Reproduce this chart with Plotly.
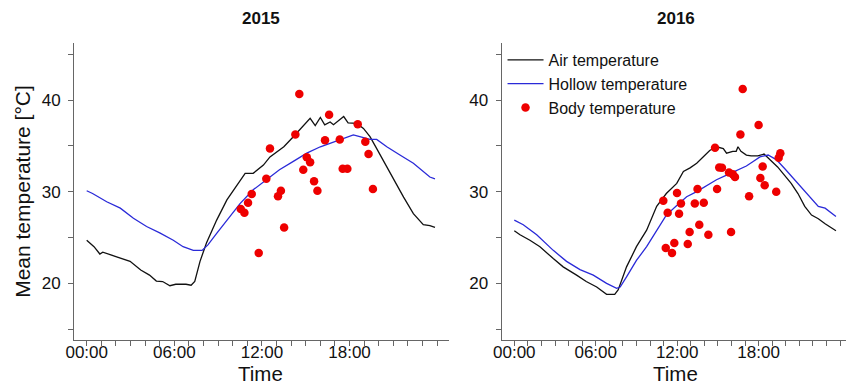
import plotly.graph_objects as go
from plotly.subplots import make_subplots

# ---- 2015 -------------------------------------------------------------
air15_h = [0, 0.5, 0.9, 1.1, 2.05, 2.97, 3.7, 4.3, 4.77, 5.2, 5.7, 6.1, 6.8, 7.15, 7.4,
           7.76, 8.2, 8.9, 9.6, 10.3, 10.85, 11.4, 12.1, 12.55, 13.5, 14.15, 14.8, 15.3,
           15.65, 16.0, 16.3, 16.67, 16.9, 17.6, 17.9, 18.5, 18.95, 19.4, 19.86, 20.55,
           21.2, 21.7, 22.37, 23.05, 23.5, 23.85]
air15_t = [24.7, 24.0, 23.2, 23.4, 22.9, 22.4, 21.45, 20.9, 20.25, 20.2, 19.74, 19.9, 19.9,
           19.8, 20.2, 22.4, 24.4, 26.9, 29.1, 30.7, 32.0, 32.0, 32.9, 33.8, 34.9, 36.0,
           37.2, 38.0, 37.2, 38.1, 37.3, 37.6, 37.3, 38.2, 37.5, 37.45, 36.9, 36.0, 34.7,
           32.7, 30.7, 29.4, 27.6, 26.4, 26.3, 26.1]

hollow15_h = [0, 0.4, 1.37, 2.3, 3.2, 4.1, 5.0, 5.93, 6.6, 7.3, 7.9, 8.3, 8.9, 9.6, 10.5,
              11.4, 12.3, 13.2, 14.15, 15.07, 16.0, 16.9, 17.8, 18.26, 18.7, 19.4, 19.86,
              20.55, 21.45, 22.37, 23.5, 23.85]
hollow15_t = [30.1, 29.8, 28.9, 28.2, 27.1, 26.2, 25.5, 24.7, 24.0, 23.6, 23.6, 24.2, 25.45,
              26.9, 28.7, 30.2, 31.3, 32.4, 33.3, 34.2, 34.9, 35.45, 36.0, 36.2, 36.0, 35.7,
              35.7, 34.9, 34.0, 33.1, 31.6, 31.4]

body15_h = [14.56, 16.6, 18.56, 14.29, 16.32, 17.33, 19.08, 12.55, 19.3, 15.07, 15.3, 14.83,
            17.53, 17.85, 12.3, 15.57, 15.8, 13.3, 19.6, 13.1, 11.3, 11.05, 10.55, 10.8,
            13.52, 11.78]
body15_t = [40.65, 38.4, 37.35, 36.25, 35.6, 35.7, 35.45, 34.7, 34.1, 33.75, 33.2, 32.4,
            32.5, 32.5, 31.4, 31.15, 30.1, 30.1, 30.3, 29.5, 29.75, 28.8, 28.1, 27.7,
            26.1, 23.3]

# ---- 2016 -------------------------------------------------------------
air16_h = [0, 0.42, 1.15, 1.89, 2.87, 3.6, 4.59, 5.3, 6.07, 6.8, 7.4, 7.66, 8.27, 9.0, 9.75,
           10.49, 11.2, 11.97, 12.46, 12.95, 13.44, 13.9, 14.4, 14.9, 15.4, 15.64, 16.1,
           16.35, 16.48, 16.7, 17.1, 17.45, 17.94, 18.4, 18.6, 18.9, 19.4, 19.9, 20.4,
           20.9, 21.4, 21.9, 22.4, 22.9, 23.7]
air16_t = [25.74, 25.3, 24.7, 24.0, 22.7, 21.8, 20.9, 20.2, 19.6, 18.8, 18.8, 19.3, 21.8,
           24.0, 25.8, 28.4, 29.8, 30.9, 32.2, 32.6, 33.1, 33.8, 34.5, 34.9, 34.7, 34.2,
           34.4, 34.4, 34.9, 34.4, 34.0, 33.9, 33.9, 34.1, 33.8, 33.45, 32.7, 31.8, 30.9,
           29.8, 28.4, 27.45, 27.05, 26.5, 25.74]

hollow16_h = [0, 0.66, 1.65, 2.87, 3.85, 4.84, 5.82, 6.8, 7.54, 7.8, 8.27, 9.0, 9.75, 10.5,
              11.2, 11.97, 12.7, 13.44, 14.2, 14.9, 15.64, 16.4, 17.1, 17.6, 18.1, 18.7,
              19.3, 19.9, 20.9, 21.65, 22.4, 22.9, 23.7]
hollow16_t = [26.9, 26.4, 25.3, 23.6, 22.4, 21.5, 20.9, 20.0, 19.45, 19.6, 20.7, 22.5, 24.0,
              25.8, 27.45, 28.5, 29.45, 30.0, 30.7, 31.3, 31.8, 32.3, 32.8, 33.3, 33.8,
              34.0, 33.5, 32.55, 30.9, 29.6, 28.4, 28.2, 27.3]

body16_h = [16.83, 18.0, 16.66, 14.79, 19.6, 19.48, 18.3, 15.1, 15.3, 15.82, 16.1, 16.26,
            18.13, 18.45, 19.3, 14.94, 17.3, 13.5, 11.99, 10.98, 12.28, 13.3, 13.96, 11.3,
            12.14, 13.63, 12.92, 14.3, 15.97, 11.79, 12.78, 11.16, 11.62]
body16_t = [41.2, 37.27, 36.25, 34.8, 34.2, 33.7, 32.75, 32.65, 32.6, 32.1, 31.9, 31.6,
            31.5, 30.7, 30.0, 30.3, 29.5, 30.3, 29.85, 29.0, 28.7, 28.7, 28.8, 27.7, 27.6,
            26.4, 25.6, 25.3, 25.6, 24.4, 24.3, 23.85, 23.3]

panel_titles = ["2015", "2016"]
tick_hours = [0, 6, 12, 18]
tick_text = ["00:00", "06:00", "12:00", "18:00"]
y_ticks = [20, 30, 40]

FONT = "Arial, Liberation Sans, sans-serif"
AIR = "#111111"
HOLLOW = "#2a2ad8"
BODY = "#ee0000"
AXIS = "#666666"
TEXT = "#111111"

fig = make_subplots(rows=1, cols=2)

panels = [
    (air15_h, air15_t, hollow15_h, hollow15_t, body15_h, body15_t),
    (air16_h, air16_t, hollow16_h, hollow16_t, body16_h, body16_t),
]
for i, (ah, at, hh, ht, bh, bh_t) in enumerate(panels):
    col = i + 1
    show = col == 2
    fig.add_trace(go.Scatter(x=ah, y=at, mode="lines", name="Air temperature",
                             line=dict(color=AIR, width=1.3), showlegend=show),
                  row=1, col=col)
    fig.add_trace(go.Scatter(x=hh, y=ht, mode="lines", name="Hollow temperature",
                             line=dict(color=HOLLOW, width=1.3), showlegend=show),
                  row=1, col=col)
    fig.add_trace(go.Scatter(x=bh, y=bh_t, mode="markers", name="Body temperature",
                             marker=dict(color=BODY, size=8.5), showlegend=show),
                  row=1, col=col)

axis_common = dict(showgrid=False, zeroline=False, showline=True, linecolor=AXIS,
                   linewidth=1, ticks="outside", ticklen=5, tickcolor=AXIS,
                   tickfont=dict(family=FONT, size=17, color=TEXT),
                   automargin=False)

x_ranges = [[-0.87, 24.81], [-0.93, 24.44]]
x_domains = [[0.08747, 0.53073], [0.5930, 1.0]]
for i in range(2):
    sfx = "" if i == 0 else "2"
    fig.layout["xaxis" + sfx].update(
        **axis_common, range=x_ranges[i], domain=x_domains[i],
        tickmode="array", tickvals=tick_hours, ticktext=tick_text,
        minor=dict(dtick=1, tick0=0, ticks="outside", ticklen=5, tickcolor=AXIS,
                   showgrid=False),
        ticklabelstandoff=-8,
    )
    fig.layout["yaxis" + sfx].update(
        **axis_common, range=[13.82, 46.22], domain=[0.11458, 0.88802],
        tickmode="array", tickvals=y_ticks,
        minor=dict(dtick=5, tick0=0, ticks="outside", ticklen=5, tickcolor=AXIS,
                   showgrid=False),
        ticklabelstandoff=4,
    )
fig.layout.yaxis.title = dict(text="Mean temperature [°C]",
                              font=dict(family=FONT, size=21, color=TEXT),
                              standoff=5)

# panel headings and x-axis titles
for txt, xc in zip(panel_titles, [0.3083, 0.7988]):
    fig.add_annotation(text="<b>" + txt + "</b>", x=xc, y=0.953, xref="paper",
                       yref="paper", xanchor="center", yanchor="middle",
                       showarrow=False, font=dict(family=FONT, size=17, color=TEXT))
for xc in [0.3082, 0.7990]:
    fig.add_annotation(text="Time", x=xc, y=-0.006, xref="paper", yref="paper",
                       xanchor="center", yanchor="bottom", showarrow=False,
                       borderpad=0, font=dict(family=FONT, size=20.5, color=TEXT))

fig.update_layout(
    width=846, height=384,
    margin=dict(l=0, r=0, t=0, b=0),
    paper_bgcolor="white", plot_bgcolor="white",
    font=dict(family=FONT, color=TEXT),
    legend=dict(x=0.594, y=0.888, xanchor="left", yanchor="top",
                bgcolor="rgba(0,0,0,0)", font=dict(family=FONT, size=16),
                tracegroupgap=0, itemwidth=36),
)

fig.write_html("out.html")
